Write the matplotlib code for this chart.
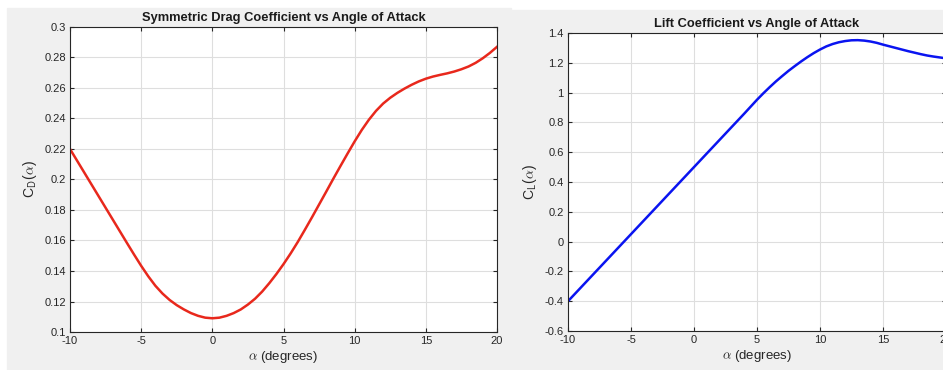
import matplotlib
matplotlib.use("Agg")
import matplotlib.pyplot as plt
from matplotlib.patches import Rectangle

plt.rcParams['font.family'] = ['Liberation Sans', 'DejaVu Sans']
plt.rcParams['mathtext.fontset'] = 'cm'
plt.rcParams['axes.unicode_minus'] = False

alpha = [-10, -9.5, -9, -8.5, -8, -7.5, -7, -6.5, -6, -5.5,
         -5, -4.5, -4, -3.5, -3, -2.5, -2, -1.5, -1, -0.5,
         0, 0.5, 1, 1.5, 2, 2.5, 3, 3.5, 4, 4.5,
         5, 5.5, 6, 6.5, 7, 7.5, 8, 8.5, 9, 9.5,
         10, 10.5, 11, 11.5, 12, 12.5, 13, 13.5, 14, 14.5,
         15, 15.5, 16, 16.5, 17, 17.5, 18, 18.5, 19, 19.5, 20]
cd = [0.2200, 0.2123, 0.2046, 0.1969, 0.1892, 0.1815, 0.1738, 0.1661, 0.1584, 0.1508,
      0.1434, 0.1365, 0.1303, 0.1252, 0.1210, 0.1176, 0.1148, 0.1124, 0.1106, 0.1094,
      0.1090, 0.1094, 0.1106, 0.1124, 0.1148, 0.1180, 0.1218, 0.1265, 0.1320, 0.1380,
      0.1445, 0.1515, 0.1590, 0.1670, 0.1752, 0.1836, 0.1920, 0.2005, 0.2088, 0.2170,
      0.2250, 0.2325, 0.2392, 0.2450, 0.2498, 0.2536, 0.2568, 0.2596, 0.2621, 0.2643,
      0.2661, 0.2675, 0.2686, 0.2696, 0.2708, 0.2723, 0.2741, 0.2765, 0.2795, 0.2830, 0.2870]
cl = [-0.400, -0.355, -0.310, -0.265, -0.220, -0.175, -0.130, -0.085, -0.040, 0.005,
      0.050, 0.095, 0.140, 0.185, 0.230, 0.275, 0.320, 0.365, 0.410, 0.455,
      0.500, 0.545, 0.590, 0.635, 0.680, 0.725, 0.770, 0.815, 0.860, 0.906,
      0.952, 0.995, 1.036, 1.075, 1.111, 1.146, 1.178, 1.209, 1.238, 1.265,
      1.289, 1.310, 1.326, 1.338, 1.346, 1.351, 1.352, 1.349, 1.343, 1.334,
      1.322, 1.311, 1.300, 1.289, 1.278, 1.268, 1.258, 1.249, 1.242, 1.236, 1.230]

xticks = [-10, -5, 0, 5, 10, 15, 20]
cd_ticks = [0.1, 0.12, 0.14, 0.16, 0.18, 0.2, 0.22, 0.24, 0.26, 0.28, 0.3]
cd_ticklabels = ['0.1', '0.12', '0.14', '0.16', '0.18', '0.2', '0.22', '0.24', '0.26', '0.28', '0.3']
cl_ticks = [-0.6, -0.4, -0.2, 0, 0.2, 0.4, 0.6, 0.8, 1, 1.2, 1.4]
cl_ticklabels = ['-0.6', '-0.4', '-0.2', '0', '0.2', '0.4', '0.6', '0.8', '1', '1.2', '1.4']

W, H = 943, 370
fig = plt.figure(figsize=(W / 100, H / 100), dpi=100)
fig.patch.set_facecolor('white')
bg = '#f0f0f0'
fig.patches.append(Rectangle((7 / W, 0), (511 - 7) / W, (H - 8) / H,
                             transform=fig.transFigure, color=bg, zorder=-10))
fig.patches.append(Rectangle((512 / W, 0), (W - 512) / W, (H - 10) / H,
                             transform=fig.transFigure, color=bg, zorder=-10))

tc = '#262626'


def style(ax):
    ax.set_facecolor('white')
    for s in ax.spines.values():
        s.set_color('#262626')
        s.set_linewidth(0.8)
    ax.tick_params(direction='in', top=True, right=True, length=3,
                   labelsize=8, colors=tc, pad=3)
    ax.grid(True, color='#dedede', linewidth=0.8)
    ax.set_axisbelow(True)


ax1 = fig.add_axes([70 / W, (H - 332) / H, (497 - 70) / W, (332 - 27) / H])
ax1.plot(alpha, cd, color='#e8281c', linewidth=1.8)
ax1.set_xlim(-10, 20)
ax1.set_ylim(0.1, 0.3)
ax1.set_xticks(xticks)
ax1.set_yticks(cd_ticks)
ax1.set_yticklabels(cd_ticklabels)
style(ax1)
ax1.set_title('Symmetric Drag Coefficient vs Angle of Attack', fontsize=9.3,
              fontweight='bold', color='#1a1a1a', pad=4)
ax1.set_xlabel(r'$\alpha$ (degrees)', fontsize=9.5, color=tc, labelpad=2)
ax1.set_ylabel(r'C$_\mathsf{D}$($\alpha$)', fontsize=10, color=tc, labelpad=4)

ax2 = fig.add_axes([568 / W, (H - 331) / H, (946 - 568) / W, (331 - 33) / H])
ax2.plot(alpha, cl, color='#0a14f0', linewidth=1.8)
ax2.set_xlim(-10, 20)
ax2.set_ylim(-0.6, 1.4)
ax2.set_xticks(xticks)
ax2.set_yticks(cl_ticks)
ax2.set_yticklabels(cl_ticklabels)
style(ax2)
ax2.set_title('Lift Coefficient vs Angle of Attack', fontsize=9.3,
              fontweight='bold', color='#1a1a1a', pad=4)
ax2.set_xlabel(r'$\alpha$ (degrees)', fontsize=9.5, color=tc, labelpad=2)
ax2.set_ylabel(r'C$_\mathsf{L}$($\alpha$)', fontsize=10, color=tc, labelpad=4)

fig.savefig('out.png', dpi=100)
